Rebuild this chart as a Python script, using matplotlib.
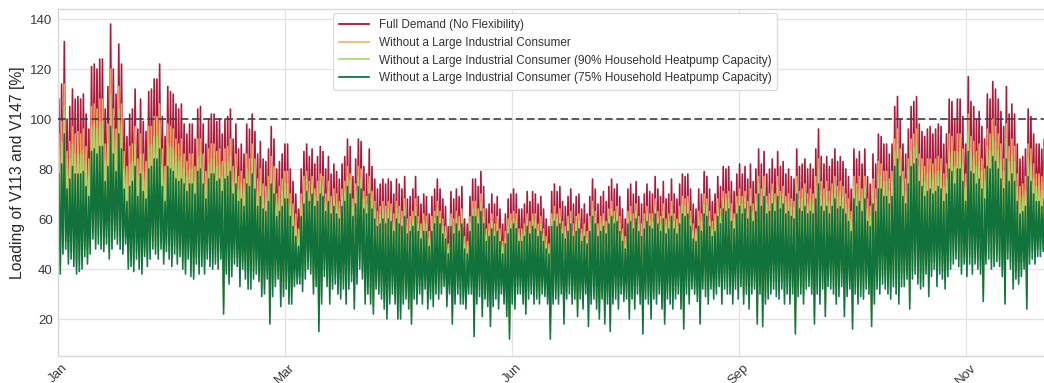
import numpy as np
import matplotlib
matplotlib.use("Agg")
import matplotlib.pyplot as plt

# ---------------- data: one daily peak / trough per series (364 days) ----------------
covered_hours = 8736
tick_hours = [0, 2000, 4000, 6000, 8000]
tick_labels = ["Jan", "Mar", "Jun", "Sep", "Nov"]
limit_line = 100

labels = [
    "Full Demand (No Flexibility)",
    "Without a Large Industrial Consumer",
    "Without a Large Industrial Consumer (90% Household Heatpump Capacity)",
    "Without a Large Industrial Consumer (75% Household Heatpump Capacity)",
]
colors = ["#a50026", "#fdae61", "#a6d96a", "#006837"]

full_peak = [108,114,131,100,105,112,108,109,108,110,102,96,121,122,120,124,124,104,113,138,120,110,130,122,100,93,102,104,112,96,108,99,95,111,112,116,116,122,101,93,113,111,110,106,104,106,
             98,94,98,98,92,104,105,98,90,100,102,102,99,100,94,100,101,104,92,98,88,90,86,98,96,102,95,86,91,84,83,88,97,92,80,83,86,90,90,80,75,70,64,80,87,
             90,85,88,82,85,89,87,80,85,78,82,79,76,82,85,92,89,77,84,92,91,81,78,88,81,76,72,74,76,74,76,75,70,76,74,72,77,68,69,72,77,69,66,70,69,62,
             69,72,76,72,68,65,57,71,68,72,69,73,60,58,69,76,76,73,79,73,64,66,70,66,69,64,58,62,68,70,72,70,64,64,66,71,67,71,70,66,69,64,60,57,71,
             74,71,73,67,65,69,72,66,69,70,64,66,62,69,76,72,66,69,71,67,73,76,72,74,69,64,60,72,74,70,75,69,66,70,74,71,70,77,72,69,75,68,70,76,70,
             68,74,78,77,78,72,66,64,72,70,79,77,72,67,70,77,73,81,80,81,75,71,78,82,78,81,76,82,75,80,88,82,87,78,80,84,80,87,81,83,78,80,77,76,88,81,
             82,84,80,82,80,88,96,85,82,85,81,84,88,83,85,83,80,77,72,88,84,87,82,88,77,74,86,82,94,93,90,90,86,90,105,109,100,90,86,96,105,107,109,98,95,
             93,96,97,94,96,98,97,90,94,108,107,100,108,108,101,90,117,107,105,100,103,97,92,110,108,115,112,108,103,97,113,102,106,102,90,84,85,88,104,101,94,90,90,88,92,90]
full_trough = [52,60,62,56,58,55,52,53,54,59,56,60,66,62,64,62,61,64,58,62,66,64,62,60,64,54,55,53,58,54,52,59,55,58,62,60,58,62,56,61,58,55,60,56,59,54,
               49,55,48,47,53,49,52,49,55,52,51,53,51,55,33,49,45,48,53,52,44,51,47,43,43,47,49,46,40,41,47,29,40,44,47,36,40,43,37,37,44,45,45,42,47,
               50,48,40,43,25,36,47,43,36,42,44,40,38,42,36,42,45,34,44,50,46,36,40,36,32,42,40,38,34,30,36,40,36,30,30,36,38,34,28,38,36,40,36,42,34,38,
               34,39,37,39,42,34,39,27,35,39,35,35,33,39,39,22,35,38,30,37,34,26,34,37,33,39,35,30,21,35,33,39,39,35,31,37,39,35,37,35,39,38,35,21,35,
               37,35,39,27,37,39,35,37,30,37,33,39,26,35,37,33,29,37,27,35,24,35,37,33,39,36,37,29,37,33,39,35,23,37,35,29,37,35,39,33,27,37,35,33,37,
               40,34,26,40,36,42,40,37,28,42,39,36,42,38,40,43,36,42,40,40,36,42,38,43,36,40,34,40,42,28,40,27,36,38,40,42,39,38,42,36,40,36,40,24,39,40,
               37,43,44,41,29,41,37,43,32,44,43,41,37,40,44,32,40,43,27,41,37,40,39,43,41,28,37,43,41,45,43,41,39,44,41,37,44,44,47,35,47,49,45,43,44,
               51,42,50,53,46,51,49,45,50,53,55,57,54,51,55,50,55,51,55,53,51,40,55,57,53,54,56,54,50,39,57,53,45,49,47,50,53,37,55,57,55,58,58,60,59,61]

noind_peak = [94,99,114,87,91,97,94,95,94,96,89,84,105,106,104,108,108,90,98,120,104,96,113,106,87,81,89,90,97,84,94,86,83,97,97,101,101,106,88,81,98,97,96,92,90,92,
              86,83,86,86,81,92,92,86,79,88,90,90,87,88,83,88,89,92,81,86,77,79,76,86,84,90,84,76,80,74,73,77,85,81,70,73,76,79,79,70,66,62,56,70,77,
              79,75,77,72,75,78,77,70,75,69,72,70,67,72,75,81,78,68,74,81,80,71,69,77,71,67,63,65,67,65,67,66,62,67,65,63,68,60,61,63,68,61,58,62,61,55,
              61,63,67,63,60,57,50,62,60,63,61,64,53,51,61,67,67,64,70,64,56,58,62,58,61,56,51,55,60,62,63,62,56,56,58,62,59,62,62,58,61,56,53,50,62,
              65,62,64,59,57,61,63,58,61,62,56,58,55,61,67,63,58,61,62,59,64,67,63,65,61,56,53,63,65,62,66,61,58,62,65,62,62,68,63,61,66,60,62,67,62,
              60,65,69,68,69,63,58,56,63,62,70,68,63,59,62,68,64,71,70,71,66,62,69,72,69,71,67,72,66,70,77,72,77,69,70,74,70,77,71,73,69,70,68,67,77,71,
              72,74,70,72,70,77,84,75,72,75,71,74,77,73,75,73,70,68,63,77,74,77,72,77,68,65,76,72,83,82,79,79,76,79,92,96,88,79,76,84,92,94,96,86,84,
              81,84,84,82,84,85,84,78,82,94,93,87,94,94,88,78,102,93,91,87,90,84,80,96,94,100,97,94,90,84,98,89,92,89,78,73,74,77,90,88,82,78,78,77,80,78]
noind_trough = [44,52,54,48,50,47,44,45,46,51,48,52,58,54,56,54,53,56,50,54,58,56,54,52,56,46,47,45,50,46,44,51,47,50,54,52,50,54,48,53,50,47,52,48,51,46,
                44,50,43,42,48,44,47,44,50,47,46,48,46,50,28,44,40,43,48,47,39,46,42,38,38,42,44,41,35,36,42,24,35,39,42,31,35,38,32,32,39,40,40,37,42,
                46,44,36,39,21,32,43,39,32,38,40,36,34,38,32,38,41,30,40,46,42,32,36,32,28,38,36,34,30,26,32,36,32,26,26,32,34,30,24,34,32,36,32,38,30,34,
                31,36,34,36,39,31,36,24,32,36,32,32,30,36,36,19,32,35,27,34,31,23,31,34,30,36,32,27,18,32,30,36,36,32,28,34,36,32,34,32,36,35,32,18,32,
                34,32,36,24,34,36,32,34,27,34,30,36,23,32,34,30,26,34,24,32,21,32,34,30,36,33,34,26,34,30,36,32,20,34,32,26,34,32,36,30,24,34,32,30,34,
                36,30,22,36,32,38,36,33,24,38,35,32,38,34,36,39,32,38,36,36,32,38,34,39,32,36,30,36,38,24,36,23,32,34,36,38,35,34,38,32,36,32,36,20,35,36,
                32,38,39,36,24,36,32,38,27,39,38,36,32,35,39,27,35,38,22,36,32,35,34,38,36,23,32,38,36,40,38,36,34,39,36,32,39,39,42,30,42,44,40,38,39,
                44,35,43,46,39,44,42,38,43,46,48,50,47,44,48,43,48,44,48,46,44,33,48,50,46,47,49,47,43,32,50,46,38,42,40,43,46,30,48,50,48,51,51,53,52,54]

hp90_peak = [86,91,105,80,84,90,86,87,86,88,82,77,97,98,96,99,99,83,90,110,96,88,104,98,80,74,82,83,90,77,86,79,76,89,90,93,93,98,81,74,90,89,88,85,83,85,
             80,77,80,80,75,85,86,80,74,82,84,84,81,82,77,82,83,85,75,80,72,74,71,80,79,84,78,71,75,69,68,72,80,75,66,68,71,74,74,66,62,57,52,66,71,
             76,71,74,69,71,75,73,67,71,66,69,66,64,69,71,77,75,65,71,77,76,68,66,74,68,64,60,62,64,62,64,63,59,64,62,60,65,57,58,60,65,58,55,59,58,52,
             58,60,64,60,57,55,48,60,57,60,58,61,50,49,58,64,64,61,66,61,54,55,59,55,58,54,49,52,57,59,60,59,54,54,55,60,56,60,59,55,58,54,50,48,60,
             62,60,61,56,55,58,60,55,58,59,54,55,52,58,64,60,55,58,60,56,61,64,60,62,58,54,50,60,62,59,63,58,55,59,62,60,59,65,60,58,63,57,59,64,59,
             57,62,66,65,66,60,55,54,60,59,66,65,60,56,59,65,61,68,67,68,63,60,66,69,66,68,64,69,63,67,74,69,73,66,67,71,67,73,68,70,66,67,65,64,74,68,
             68,70,66,68,66,73,80,71,68,71,67,70,73,69,71,69,66,64,60,73,70,72,68,73,64,61,71,68,78,77,75,75,71,75,87,90,83,75,71,80,87,89,90,81,79,
             75,78,79,76,78,79,79,73,76,87,87,81,87,87,82,73,95,87,85,81,83,79,75,89,87,93,91,87,83,79,92,83,86,83,73,68,69,71,84,82,76,73,73,71,75,73]
hp90_trough = [41,49,51,45,47,44,41,42,43,48,45,49,55,51,53,51,50,53,47,51,55,53,51,49,53,43,44,42,47,43,41,48,44,47,51,49,47,51,45,50,47,44,49,45,48,43,
               41,47,40,39,45,41,44,41,47,44,43,45,43,47,25,41,37,40,45,44,36,43,39,35,35,39,41,38,32,33,39,21,32,36,39,28,32,35,29,29,36,37,37,34,39,
               43,41,33,36,18,29,40,36,29,35,37,33,31,35,29,35,38,27,37,43,39,29,33,29,25,35,33,31,27,23,29,33,29,23,23,29,31,27,21,31,29,33,29,35,27,31,
               28,33,31,33,36,28,33,21,29,33,29,29,27,33,33,16,29,32,24,31,28,20,28,31,27,33,29,24,15,29,27,33,33,29,25,31,33,29,31,29,33,32,29,15,29,
               31,29,33,21,31,33,29,31,24,31,27,33,20,29,31,27,23,31,21,29,18,29,31,27,33,30,31,23,31,27,33,29,17,31,29,23,31,29,33,27,21,31,29,27,31,
               33,27,19,33,29,35,33,30,21,35,32,29,35,31,33,36,29,35,33,33,29,35,31,36,29,33,27,33,35,21,33,20,29,31,33,35,32,31,35,29,33,29,33,17,32,33,
               29,35,36,33,21,33,29,35,24,36,35,33,29,32,36,24,32,35,19,33,29,32,31,35,33,20,29,35,33,37,35,33,31,36,33,29,36,36,39,27,39,41,37,35,36,
               41,32,40,43,36,41,39,35,40,43,45,47,44,41,45,40,45,41,45,43,41,30,45,47,43,44,46,44,40,29,47,43,35,39,37,40,43,27,45,47,45,48,48,50,49,51]

hp75_peak = [78,82,94,72,76,81,78,78,78,79,73,69,87,88,86,89,89,75,81,97,86,79,94,88,72,67,73,75,81,69,78,71,68,80,81,84,84,88,73,67,81,80,79,76,75,76,
             74,71,74,74,70,79,80,74,68,76,78,78,75,76,71,76,77,79,70,74,67,68,65,74,73,78,72,65,69,64,63,67,74,70,61,63,65,68,68,61,57,53,49,61,66,
             71,67,70,65,67,70,69,63,67,62,65,62,60,65,67,73,70,61,66,73,72,64,62,70,64,60,57,58,60,58,60,59,55,60,58,57,61,54,55,57,61,55,52,55,55,49,
             55,58,61,58,54,52,46,57,54,58,55,58,48,46,55,61,61,58,63,58,51,53,56,53,55,51,46,50,54,56,58,56,51,51,53,57,54,57,56,53,55,51,48,46,57,
             59,57,58,54,52,55,58,53,55,56,51,53,50,55,61,58,53,55,57,54,58,61,58,59,55,51,48,58,59,56,60,55,53,56,59,57,56,62,58,55,60,54,56,61,56,
             54,58,62,61,62,57,52,51,57,55,62,61,57,53,55,61,58,64,63,64,59,56,62,65,62,64,60,65,59,63,70,65,69,62,63,66,63,69,64,66,62,63,61,60,70,64,
             63,65,62,63,62,68,74,65,63,65,62,65,68,64,65,64,62,59,55,68,65,67,63,68,59,57,66,63,72,72,69,69,66,69,81,84,77,69,66,74,81,82,84,75,73,
             69,71,72,70,71,73,72,67,70,80,79,74,80,80,75,67,87,79,78,74,76,72,68,81,80,85,83,80,76,72,84,75,78,75,67,62,63,65,77,75,70,67,67,65,68,67]
hp75_trough = [38,46,48,42,44,41,38,39,40,45,42,46,52,48,50,48,47,50,44,48,52,50,48,46,50,40,41,39,44,40,38,45,41,44,48,46,44,48,42,47,44,41,46,42,45,40,
               38,44,37,36,42,38,41,38,44,41,40,42,40,44,22,38,34,37,42,41,33,40,36,32,32,36,38,35,29,30,36,18,29,33,36,25,29,32,26,26,33,34,34,31,36,
               40,38,30,33,15,26,37,33,26,32,34,30,28,32,26,32,35,24,34,40,36,26,30,26,22,32,30,28,24,20,26,30,26,20,20,26,28,24,18,28,26,30,26,32,24,28,
               25,30,28,30,33,25,30,18,26,30,26,26,24,30,30,13,26,29,21,28,25,17,25,28,24,30,26,21,12,26,24,30,30,26,22,28,30,26,28,26,30,29,26,12,26,
               28,26,30,18,28,30,26,28,21,28,24,30,17,26,28,24,20,28,18,26,15,26,28,24,30,27,28,20,28,24,30,26,14,28,26,20,28,26,30,24,18,28,26,24,28,
               30,24,16,30,26,32,30,27,18,32,29,26,32,28,30,33,26,32,30,30,26,32,28,33,26,30,24,30,32,18,30,17,26,28,30,32,29,28,32,26,30,26,30,14,29,30,
               26,32,33,30,18,30,26,32,21,33,32,30,26,29,33,21,29,32,16,30,26,29,28,32,30,17,26,32,30,34,32,30,28,33,30,26,33,33,36,24,36,38,34,32,33,
               38,29,37,40,33,38,36,32,37,40,42,44,41,38,42,37,42,38,42,40,38,27,42,44,40,41,43,41,37,26,44,40,32,36,34,37,40,24,42,44,42,45,45,47,46,48]

series = [(full_peak, full_trough), (noind_peak, noind_trough),
          (hp90_peak, hp90_trough), (hp75_peak, hp75_trough)]


def zigzag(peaks, troughs):
    n = len(peaks)
    period = covered_hours / n
    k = np.arange(n)
    x = np.empty(2 * n)
    y = np.empty(2 * n)
    x[0::2] = k * period + period * 0.25
    x[1::2] = k * period + period * 0.75
    y[0::2] = peaks
    y[1::2] = troughs
    return x, y


plt.rcParams["font.family"] = ["Liberation Sans", "DejaVu Sans"]
fig = plt.figure(figsize=(10.44, 3.83), dpi=100)
ax = fig.add_axes([58.2 / 1044, 27 / 383, 993.8 / 1044, 346.7 / 383])
ax.set_facecolor("white")

for (pk, tr), lab, col in zip(series, labels, colors):
    x, y = zigzag(pk, tr)
    ax.plot(x, y, color=col, lw=1.2, alpha=0.9, label=lab)

ax.axhline(limit_line, color="#404040", lw=1.2, ls=(0, (4.5, 2.2)), zorder=5)

ax.set_xlim(0, 8760)
ax.set_ylim(5.2, 143.9)
ax.set_xticks(tick_hours)
ax.set_xticklabels(tick_labels, rotation=45, ha="center")
ax.set_yticks([20, 40, 60, 80, 100, 120, 140])
ax.grid(True, color="#e3e3e3", lw=0.9)
ax.set_axisbelow(True)
for s in ax.spines.values():
    s.set_color("#d8d8d8")
    s.set_linewidth(1.0)
ax.tick_params(axis="both", length=0, labelsize=9.5, colors="#3a3a3a", pad=4)
ax.set_ylabel("Loading of V113 and V147 [%]", fontsize=11.3, color="#2a2a2a")
ax.yaxis.set_label_coords(-0.0334, 0.53)

leg = ax.legend(loc="upper center", bbox_to_anchor=(0.5, 1.0), borderaxespad=0.35,
                fontsize=8.5, frameon=True, fancybox=True, framealpha=1.0,
                edgecolor="#dddddd", handlelength=2.6, labelspacing=0.5, borderpad=0.45)
for h in leg.get_lines():
    h.set_linewidth(1.2)
    h.set_alpha(1.0)
for t in leg.get_texts():
    t.set_color("#333333")

fig.savefig("out.png", dpi=100)
